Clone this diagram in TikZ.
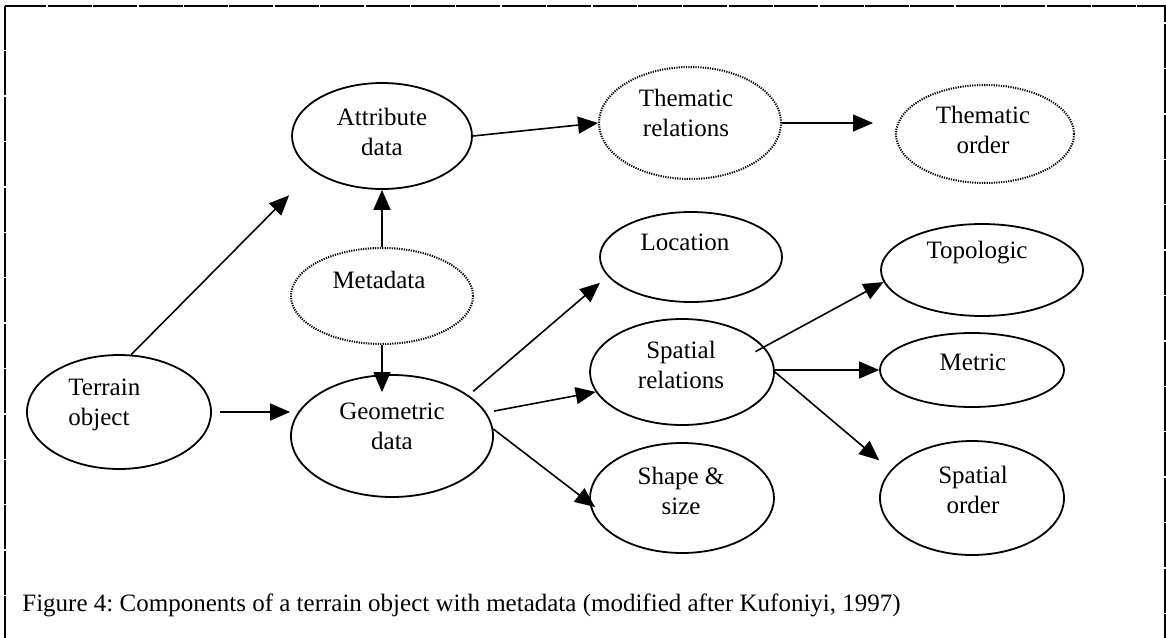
\documentclass[tikz,border=0pt]{standalone}
\usepackage{fontspec}
\setmainfont{Liberation Serif}
\usetikzlibrary{shapes.geometric,arrows.meta}
\begin{document}
\begin{tikzpicture}[x=0.5pt,y=-0.5pt,
  oval/.style={draw,ellipse,line width=0.9pt,inner sep=0pt},
  dotoval/.style={oval,line width=1pt,dash pattern=on 0.6pt off 0.6pt},
  lbl/.style={font=\fontsize{12.5}{15}\selectfont,align=center,inner sep=0pt},
  arr/.style={line width=0.8pt,-{Triangle[length=10pt,width=8.5pt]}}]
  \useasboundingbox (0,0) rectangle (1166,637);
  \draw[line width=0.7pt,dash pattern=on 22pt off 0.7pt] (5,6) rectangle (1165,660);

  \node[oval,minimum width=90pt,minimum height=53pt] (attr) at (382,136) {};
  \node[dotoval,minimum width=91pt,minimum height=56pt] (threl) at (690,123) {};
  \node[dotoval,minimum width=89pt,minimum height=49pt] (thord) at (985,134) {};
  \node[dotoval,minimum width=91pt,minimum height=48pt] (meta) at (382,296) {};
  \node[oval,minimum width=92pt,minimum height=57pt] (terrain) at (119,412) {};
  \node[oval,minimum width=101pt,minimum height=61pt] (geo) at (392,436) {};
  \node[oval,minimum width=91pt,minimum height=45pt] (loc) at (691,257) {};
  \node[oval,minimum width=92pt,minimum height=53pt] (sprel) at (682,372) {};
  \node[oval,minimum width=92pt,minimum height=55pt] (shape) at (682,498) {};
  \node[oval,minimum width=101pt,minimum height=46pt] (topo) at (982,270) {};
  \node[oval,minimum width=92pt,minimum height=37pt] (metric) at (972,370) {};
  \node[oval,minimum width=92pt,minimum height=57pt] (sord) at (972,498) {};

  \node[lbl] (attrtxt) at (382,132) {Attribute\\data};
  \node[lbl] (threltxt) at (686,113) {Thematic\\relations};
  \node[lbl] (thordtxt) at (983,130) {Thematic\\order};
  \node[lbl] (metatxt) at (379,280) {Metadata};
  \node[lbl,align=left,anchor=west] (terraintxt) at (68,405) {Terrain\\object};
  \node[lbl] (geotxt) at (392,426) {Geometric\\data};
  \node[lbl] (loctxt) at (685,242) {Location};
  \node[lbl] (spreltxt) at (681,365) {Spatial\\relations};
  \node[lbl] (shapetxt) at (681,491) {Shape \&\\size};
  \node[lbl] (topotxt) at (977,253) {Topologic};
  \node[lbl] (metrictxt) at (973,362) {Metric};
  \node[lbl] (sordtxt) at (973,490) {Spatial\\order};

  \draw[arr,shorten >=17pt] (terrain.78) -- (attr.207);
  \draw[arr,shorten <=4pt] (terrain.east) -- (terrain.east -| geo.west);
  \draw[arr] (meta.north) -- (attr.south);
  \draw[arr,shorten >=-9pt] (meta.south) -- (meta.south |- geo.north);
  \draw[arr] (attr.east) -- (threl.west);
  \draw[arr,shorten >=11pt] (threl.east) -- (threl.east -| thord.west);
  \draw[arr,shorten <=3pt,shorten >=5pt] (geo.28) -- (loc.193);
  \draw[arr,shorten <=4pt] (geo.14) -- (sprel.193);
  \draw[arr,shorten >=-3.5pt] (geo.4) -- (shape.183);
  \draw[arr,shorten <=-5pt] (sprel.17) -- (topo.187);
  \draw[arr] (metric.west -| sprel.east) -- (metric.west);
  \draw[arr,shorten >=7.5pt] (sprel.east) -- (sord.161);

  \node[lbl,anchor=west] (caption) at (22,605) {\frenchspacing Figure 4: Components of a terrain object with metadata (modified after Kufoniyi, 1997)};
\end{tikzpicture}
\end{document}
